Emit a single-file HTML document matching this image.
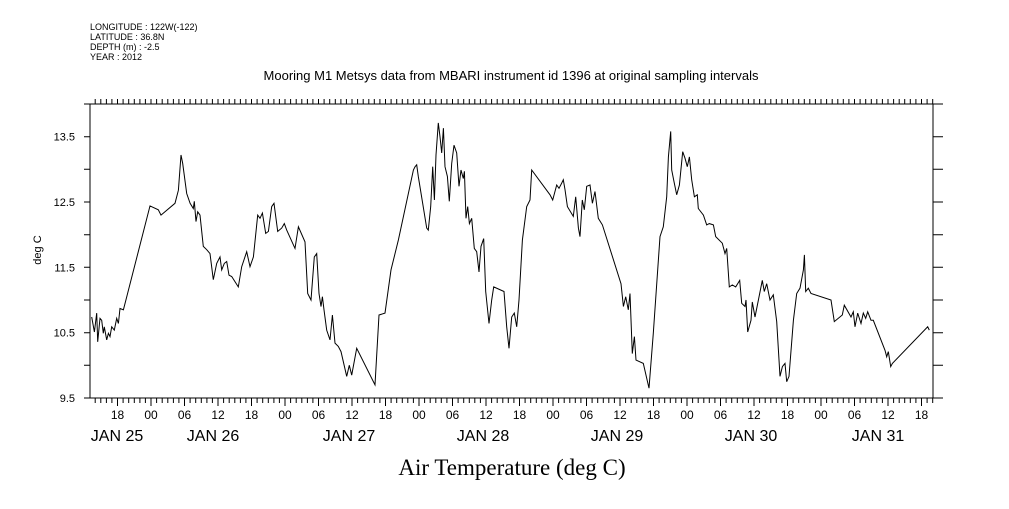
<!DOCTYPE html>
<html><head><meta charset="utf-8"><style>
body{margin:0;background:#fff;}
svg text{font-family:"Liberation Sans",sans-serif;fill:#000;}
</style></head><body>
<svg id="chart" width="1009" height="504" viewBox="0 0 1009 504" xmlns="http://www.w3.org/2000/svg">
<rect width="1009" height="504" fill="#fff"/>
<g font-size="9">
<text x="90" y="30">LONGITUDE : 122W(-122)</text>
<text x="90" y="40">LATITUDE : 36.8N</text>
<text x="90" y="50">DEPTH (m) : -2.5</text>
<text x="90" y="60">YEAR : 2012</text>
</g>
<text x="511" y="80" font-size="13" text-anchor="middle">Mooring M1 Metsys data from MBARI instrument id 1396 at original sampling intervals</text>
<text x="512" y="475" font-size="23" text-anchor="middle" style="font-family:'Liberation Serif',serif">Air Temperature (deg C)</text>
<text x="41" y="250" font-size="11" text-anchor="middle" transform="rotate(-90 41 250)">deg C</text>
<rect x="90" y="104" width="843" height="294" fill="none" stroke="#000" stroke-width="1"/>
<g id="axes"></g>
<g id="series"></g>
</svg>
<script>
const hours = [-10.63,-10.15,-9.73,-9.55,-9.13,-8.84,-8.54,-8.36,-7.94,-7.64,-7.34,-7.04,-6.57,-6.15,-5.85,-5.55,-4.95,-0.18,1.31,1.79,4.30,4.90,5.37,5.67,6.39,6.99,7.58,7.76,8.06,8.36,8.78,9.37,9.97,10.57,11.16,11.76,12.36,12.66,13.13,13.55,13.97,14.45,15.64,16.24,17.13,17.73,18.33,19.10,19.52,19.94,20.54,21.02,21.61,22.03,22.69,23.40,23.88,24.30,25.79,26.39,27.58,28.06,28.66,29.25,29.67,30.09,30.45,30.69,30.98,31.46,32.06,32.48,32.96,33.55,34.03,35.05,35.52,35.94,36.84,40.12,
40.84,41.91,42.99,44.30,46.99,47.29,47.58,47.88,49.37,49.67,50.09,50.45,50.75,51.05,51.46,51.76,52.06,52.36,52.66,53.08,53.43,53.85,54.27,54.75,55.16,55.52,55.94,56.12,56.42,56.72,57.02,57.43,57.91,58.33,58.75,59.11,59.58,59.94,60.54,61.02,61.37,63.22,63.70,64.12,64.60,65.07,65.49,65.91,66.51,67.28,67.88,68.18,71.46,71.94,72.66,73.07,73.55,73.85,74.15,74.57,75.64,76.06,76.54,76.84,77.25,77.61,78.03,78.63,79.05,79.52,80.12,80.84,84.18,84.60,85.02,85.49,85.79,86.21,86.57,86.87,88.18,89.19,
89.97,91.17,91.76,92.36,92.66,93.08,93.26,93.73,94.15,94.63,95.23,95.64,96.06,96.42,96.84,97.32,97.85,98.03,98.93,99.52,100.00,100.72,101.14,102.33,102.81,103.11,103.58,104.12,104.72,105.43,105.79,106.39,106.57,106.87,107.46,107.70,108.18,108.78,109.49,109.85,110.27,110.87,111.46,112.06,112.66,113.08,113.55,113.85,114.27,115.05,115.64,116.24,116.84,117.02,117.26,117.73,118.21,121.79,122.39,123.82,124.18,125.37,125.79,126.09,126.57,127.17,127.58,128.00,128.36,128.96,129.37,131.46,131.76,132.06,132.48,132.78,139.11,139.40];
const temps = [10.74,10.51,10.80,10.36,10.72,10.69,10.49,10.59,10.39,10.49,10.44,10.59,10.54,10.72,10.64,10.87,10.85,12.44,12.38,12.30,12.48,12.68,13.22,13.09,12.63,12.48,12.40,12.51,12.20,12.35,12.30,11.82,11.77,11.71,11.31,11.56,11.66,11.46,11.56,11.59,11.38,11.36,11.20,11.51,11.74,11.51,11.66,12.30,12.25,12.33,12.02,12.05,12.43,12.48,12.05,12.10,12.17,12.07,11.79,12.12,11.89,11.10,11.00,11.66,11.71,11.10,10.90,11.05,10.85,10.54,10.39,10.77,10.34,10.29,10.21,9.83,10.00,9.85,10.26,9.70,
10.77,10.80,11.46,11.92,12.99,13.04,13.07,12.89,12.10,12.07,12.43,13.04,12.53,13.22,13.71,13.50,13.25,13.63,13.04,12.89,12.51,13.09,13.37,13.25,12.74,12.99,12.86,12.97,12.25,12.43,12.17,12.25,11.79,11.74,11.43,11.82,11.94,11.13,10.64,11.00,11.20,11.13,10.59,10.26,10.74,10.80,10.59,11.00,11.92,12.43,12.53,12.99,12.61,12.53,12.76,12.71,12.79,12.84,12.69,12.43,12.28,12.58,12.10,11.97,12.53,12.38,12.74,12.76,12.48,12.66,12.25,12.15,11.25,10.90,11.05,10.85,11.10,10.18,10.44,10.08,10.03,9.65,
10.49,11.97,12.12,12.58,13.19,13.58,12.99,12.79,12.61,12.76,13.27,13.17,13.04,13.19,12.84,12.58,12.61,12.40,12.30,12.15,12.17,12.15,11.97,11.87,11.71,11.79,11.20,11.23,11.20,11.30,10.95,10.90,11.00,10.51,10.69,10.97,10.74,11.00,11.30,11.13,11.25,11.00,11.08,10.67,9.83,9.98,10.03,9.75,9.83,10.69,11.10,11.18,11.46,11.69,11.13,11.18,11.10,11.00,10.67,10.77,10.92,10.74,10.82,10.59,10.80,10.64,10.80,10.72,10.82,10.69,10.69,10.23,10.13,10.21,9.98,10.03,10.59,10.54];
const yTickLabels = ["9.5","10.5","11.5","12.5","13.5"];
const hourLabels = ["18","00","06","12"];
const dayLabels = ["JAN 25","JAN 26","JAN 27","JAN 28","JAN 29","JAN 30","JAN 31"];
const X0=90,X1=933,Y0=398,Y1=104,HMIN=-10.93,HMAX=140.06,TMIN=9.5,TMAX=14.0;
function xs(h){return X0+(h-HMIN)/(HMAX-HMIN)*(X1-X0);}
function ys(t){return Y0-(t-TMIN)/(TMAX-TMIN)*(Y0-Y1);}
const NS="http://www.w3.org/2000/svg";
const axes=document.getElementById('axes');
let d='';
for(let h=Math.ceil(HMIN);h<=HMAX;h++){const x=xs(h).toFixed(1);const L=(h%6===0)?8:5;
d+=`M${x} ${Y0}v${L}M${x} ${Y1}v-5`;}
for(let t=9.5;t<=14.0001;t+=0.5){const y=ys(t).toFixed(1);d+=`M${X0} ${y}h-6M${X1} ${y}h10`;}
const tp=document.createElementNS(NS,'path');
tp.setAttribute('d',d);tp.setAttribute('stroke','#000');tp.setAttribute('fill','none');


axes.appendChild(tp);
yTickLabels.forEach(s=>{const t=document.createElementNS(NS,'text');
t.setAttribute('x',75);t.setAttribute('y',ys(parseFloat(s))+4);t.setAttribute('text-anchor','end');t.setAttribute('font-size','11');
t.textContent=s;


axes.appendChild(t);});
for(let h=-6,i=0;h<=HMAX;h+=6,i++){const t=document.createElementNS(NS,'text');
t.setAttribute('x',xs(h));t.setAttribute('y',419);t.setAttribute('text-anchor','middle');t.setAttribute('font-size','12');
t.textContent=hourLabels[i%4];


axes.appendChild(t);}
const dayX=[117,213,349,483,617,751,878];
dayLabels.forEach((s,i)=>{const t=document.createElementNS(NS,'text');
t.setAttribute('x',dayX[i]);t.setAttribute('y',441);t.setAttribute('text-anchor','middle');t.setAttribute('font-size','16');
t.textContent=s;


axes.appendChild(t);});
const pts=hours.map((h,i)=>xs(h).toFixed(1)+','+ys(temps[i]).toFixed(1)).join(' ');
const pl=document.createElementNS(NS,'polyline');
pl.setAttribute('points',pts);pl.setAttribute('fill','none');pl.setAttribute('stroke','#000');pl.setAttribute('stroke-width','1');


document.getElementById('series').appendChild(pl);
</script>
</body></html>
